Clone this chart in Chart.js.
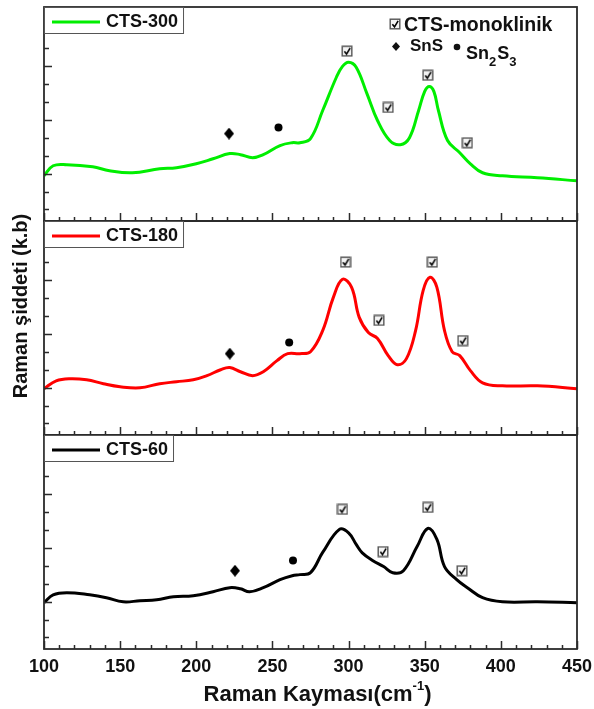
<!DOCTYPE html>
<html>
<head>
<meta charset="utf-8">
<script src="https://cdn.jsdelivr.net/npm/chart.js@4.4.1/dist/chart.umd.min.js"></script>
<style>
  html, body { margin: 0; padding: 0; background: #fff; }
  #wrap { width: 594px; height: 709px; }
</style>
</head>
<body>
<div id="wrap"><canvas id="raman" width="594" height="709"></canvas></div>
<script>
// Raman spektrumlari - CTS-300 / CTS-180 / CTS-60

// CTS-300 (yesil)
const shift300 = [100, 106, 115, 132, 143, 158, 176, 187, 200, 211, 222, 229, 237, 244, 255, 263, 268, 275, 283, 292, 296, 300, 305, 312, 319, 327, 334, 340, 346, 350, 353, 356, 359, 365, 373, 380, 388, 401, 424, 450];
const int300   = [288, 344, 350, 338, 316, 305, 327, 333, 355, 383, 412, 406, 389, 406, 457, 473, 473, 496, 653, 839, 900, 923, 895, 749, 597, 485, 462, 501, 653, 760, 788, 760, 653, 485, 417, 355, 305, 288, 277, 260];

// CTS-180 (kirmizi)
const shift180 = [100, 108, 117, 128, 139, 150, 163, 176, 187, 198, 207, 216, 222, 229, 237, 244, 253, 260, 268, 275, 283, 290, 296, 302, 307, 313, 319, 326, 332, 338, 344, 349, 353.5, 358, 363, 368, 373, 380, 388, 401, 424, 450];
const int180   = [294, 338, 350, 344, 322, 305, 299, 322, 333, 344, 367, 400, 412, 389, 367, 389, 451, 490, 490, 501, 619, 805, 906, 861, 693, 608, 575, 479, 428, 462, 619, 844, 917, 861, 619, 501, 479, 395, 327, 310, 310, 294];

// CTS-60 (siyah)
const shift60 = [100, 106, 115, 130, 141, 152, 163, 174, 185, 198, 211, 222, 229, 235, 244, 255, 263, 268, 275, 283, 294, 300, 305, 309, 316, 323, 329, 336, 345, 352, 358, 363, 371, 378, 388, 401, 424, 450];
const int60   = [294, 338, 350, 338, 322, 299, 305, 310, 327, 333, 355, 378, 372, 355, 378, 423, 445, 451, 462, 575, 704, 685, 620, 573, 529, 496, 462, 473, 608, 709, 648, 496, 423, 378, 322, 299, 299, 294];

// isaretler (CTS-monoklinik, SnS, Sn2S3)
const check300X = [299, 326, 352, 378];
const check300Y = [985, 670, 850, 473];
const sns300 = [221.5, 524];
const sn2s3_300 = [254, 558];

const check180X = [298, 320, 355, 375];
const check180Y = [1002, 676, 1002, 563];
const sns180 = [222, 490];
const sn2s3_180 = [261, 552];

const check60X = [296, 322.6, 352, 374.5];
const check60Y = [816, 580, 827, 473];
const sns60 = [225.4, 473];
const sn2s3_60 = [263.5, 530];

const xTickLabels = [100, 150, 200, 250, 300, 350, 400, 450];
const seriesNames = ['CTS-300', 'CTS-180', 'CTS-60'];
const seriesColors = ['#00ee00', '#ff0000', '#000000'];

const FONT = '"Liberation Sans", Arial, sans-serif';
const FRAME = '#2b2b2b';

function iconoCheck(size) {
    const c = document.createElement('canvas');
    c.width = size; c.height = size;
    const g = c.getContext('2d');
    g.fillStyle = '#f4f4f4';
    g.fillRect(1, 1, size - 2, size - 2);
    g.strokeStyle = '#555';
    g.lineWidth = 1.4;
    g.strokeRect(1.2, 1.2, size - 2.4, size - 2.4);
    g.strokeStyle = '#000';
    g.lineWidth = 1.6;
    g.beginPath();
    g.moveTo(size * 0.28, size * 0.52);
    g.lineTo(size * 0.46, size * 0.74);
    g.lineTo(size * 0.76, size * 0.24);
    g.stroke();
    return c;
}

function iconoRombo(w, h) {
    const c = document.createElement('canvas');
    c.width = w; c.height = h;
    const g = c.getContext('2d');
    g.fillStyle = '#000';
    g.beginPath();
    g.moveTo(w / 2, 0); g.lineTo(w, h / 2); g.lineTo(w / 2, h); g.lineTo(0, h / 2);
    g.closePath();
    g.fill();
    return c;
}

const CHECK = iconoCheck(12);
const ROMBO = iconoRombo(10, 12);

const puntos = (xs, ys) => xs.map((x, i) => ({ x: x, y: ys[i] }));

function curva(label, xs, ys, color, eje) {
    return {
        label: label,
        data: puntos(xs, ys),
        yAxisID: eje,
        borderColor: color,
        borderWidth: 3,
        pointRadius: 0,
        tension: 0.4,
        fill: false,
        order: 2
    };
}

function marcas(xs, ys, estilo, radio, eje) {
    return {
        data: puntos(xs, ys),
        yAxisID: eje,
        showLine: false,
        pointStyle: estilo,
        pointRadius: radio,
        pointBackgroundColor: '#000',
        pointBorderColor: '#000',
        pointBorderWidth: 0,
        order: 1
    };
}

const paneles = [
    { eje: 'yTop', nombre: seriesNames[0], color: seriesColors[0] },
    { eje: 'yMid', nombre: seriesNames[1], color: seriesColors[1] },
    { eje: 'yBot', nombre: seriesNames[2], color: seriesColors[2] }
];

// marcos, ticks hacia dentro, leyendas y titulos
const decoracion = {
    id: 'decoracion',
    afterDraw(chart) {
        const ctx = chart.ctx;
        const xs = chart.scales.x;
        const left = chart.chartArea.left;
        const right = chart.chartArea.right;

        paneles.forEach(p => {
            const ys = chart.scales[p.eje];
            const top = ys.top, bottom = ys.bottom;
            ctx.save();
            ctx.strokeStyle = FRAME;
            ctx.lineWidth = 1.5;
            ctx.beginPath();
            for (let v = xs.min; v <= xs.max; v += 10) {
                const px = Math.round(xs.getPixelForValue(v)) + 0.5;
                const len = v % 50 === 0 ? 8 : 4;
                ctx.moveTo(px, bottom);
                ctx.lineTo(px, bottom - len);
            }
            for (let v = Math.ceil(ys.min / 100) * 100; v < ys.max; v += 100) {
                const py = Math.round(ys.getPixelForValue(v)) + 0.5;
                const len = v % 300 === 0 ? 8 : 5;
                ctx.moveTo(left, py);
                ctx.lineTo(left + len, py);
            }
            ctx.stroke();
            ctx.lineWidth = 1.8;
            ctx.strokeRect(left, top, right - left, bottom - top);

            // leyenda del panel
            ctx.font = 'bold 18px ' + FONT;
            const tx = left + 62;
            const tw = ctx.measureText(p.nombre).width;
            const bh = 26;
            ctx.fillStyle = '#fff';
            ctx.fillRect(left + 1, top + 1, tx + tw + 5 - left, bh);
            ctx.strokeStyle = '#555';
            ctx.lineWidth = 1;
            ctx.strokeRect(left + 0.5, top + 0.5, tx + tw + 5 - left, bh);
            ctx.strokeStyle = p.color;
            ctx.lineWidth = 3;
            ctx.beginPath();
            ctx.moveTo(left + 8, top + 15);
            ctx.lineTo(left + 56, top + 15);
            ctx.stroke();
            ctx.fillStyle = '#111';
            ctx.textBaseline = 'middle';
            ctx.fillText(p.nombre, tx, top + 15);
            ctx.restore();
        });

        ctx.save();
        ctx.fillStyle = '#111';

        // etiquetas del eje x
        ctx.font = 'bold 18px ' + FONT;
        ctx.textAlign = 'center';
        ctx.textBaseline = 'middle';
        xTickLabels.forEach(v => {
            ctx.fillText(String(v), xs.getPixelForValue(v), 667);
        });

        // leyenda de fases
        ctx.textAlign = 'left';
        ctx.textBaseline = 'alphabetic';
        ctx.drawImage(CHECK, 389, 18);
        ctx.font = 'bold 19.5px ' + FONT;
        ctx.fillText('CTS-monoklinik', 404, 31);
        ctx.beginPath();
        ctx.moveTo(396, 42); ctx.lineTo(400, 46.5); ctx.lineTo(396, 51); ctx.lineTo(392, 46.5);
        ctx.closePath();
        ctx.fill();
        ctx.font = 'bold 17px ' + FONT;
        ctx.fillText('SnS', 410, 51);
        ctx.beginPath();
        ctx.arc(457, 47, 3.3, 0, Math.PI * 2);
        ctx.fill();
        let x = 466;
        ctx.font = 'bold 18px ' + FONT;
        ctx.fillText('Sn', x, 59); x += ctx.measureText('Sn').width;
        ctx.font = 'bold 13px ' + FONT;
        ctx.fillText('2', x, 66); x += ctx.measureText('2').width + 1;
        ctx.font = 'bold 18px ' + FONT;
        ctx.fillText('S', x, 59); x += ctx.measureText('S').width;
        ctx.font = 'bold 13px ' + FONT;
        ctx.fillText('3', x, 66);

        // titulo eje x
        ctx.font = 'bold 22px ' + FONT;
        const t1 = 'Raman Kayması(cm';
        const w1 = ctx.measureText(t1).width;
        ctx.font = 'bold 13px ' + FONT;
        const w2 = ctx.measureText('-1').width;
        ctx.font = 'bold 22px ' + FONT;
        const w3 = ctx.measureText(')').width;
        let sx = 317.5 - (w1 + w2 + w3) / 2;
        ctx.fillText(t1, sx, 701); sx += w1;
        ctx.font = 'bold 13px ' + FONT;
        ctx.fillText('-1', sx, 690); sx += w2;
        ctx.font = 'bold 22px ' + FONT;
        ctx.fillText(')', sx, 701);

        // titulo eje y
        ctx.translate(21, 306);
        ctx.rotate(-Math.PI / 2);
        ctx.textAlign = 'center';
        ctx.textBaseline = 'middle';
        ctx.font = 'bold 20px ' + FONT;
        ctx.fillText('Raman şiddeti (k.b)', 0, 0);
        ctx.restore();
    }
};

function ejeY() {
    return {
        type: 'linear',
        position: 'left',
        stack: 'raman',
        stackWeight: 1,
        min: 35,
        max: 1232,
        display: false
    };
}

new Chart(document.getElementById('raman'), {
    type: 'line',
    data: {
        datasets: [
            curva(seriesNames[0], shift300, int300, seriesColors[0], 'yTop'),
            curva(seriesNames[1], shift180, int180, seriesColors[1], 'yMid'),
            curva(seriesNames[2], shift60, int60, seriesColors[2], 'yBot'),
            marcas(check300X, check300Y, CHECK, 6, 'yTop'),
            marcas(check180X, check180Y, CHECK, 6, 'yMid'),
            marcas(check60X, check60Y, CHECK, 6, 'yBot'),
            marcas([sns300[0]], [sns300[1]], ROMBO, 6, 'yTop'),
            marcas([sns180[0]], [sns180[1]], ROMBO, 6, 'yMid'),
            marcas([sns60[0]], [sns60[1]], ROMBO, 6, 'yBot'),
            marcas([sn2s3_300[0]], [sn2s3_300[1]], 'circle', 4, 'yTop'),
            marcas([sn2s3_180[0]], [sn2s3_180[1]], 'circle', 4, 'yMid'),
            marcas([sn2s3_60[0]], [sn2s3_60[1]], 'circle', 4, 'yBot')
        ]
    },
    options: {
        responsive: false,
        animation: false,
        devicePixelRatio: 1,
        layout: { padding: { left: 44, right: 17, top: 7, bottom: 60 } },
        plugins: {
            legend: { display: false },
            tooltip: { enabled: false }
        },
        scales: {
            x: {
                type: 'linear',
                min: 100,
                max: 450,
                display: false
            },
            yBot: ejeY(),
            yMid: ejeY(),
            yTop: ejeY()
        }
    },
    plugins: [decoracion]
});
</script>
</body>
</html>
